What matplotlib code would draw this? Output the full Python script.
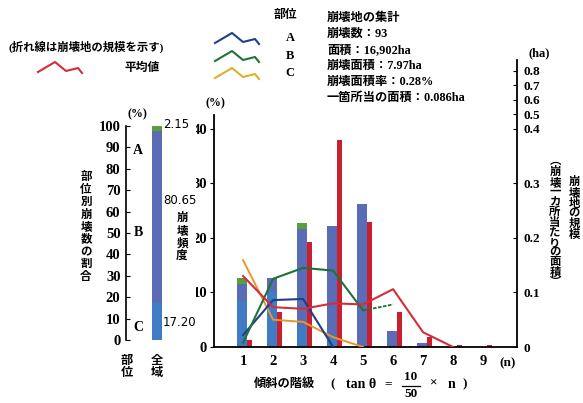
import matplotlib
matplotlib.use("Agg")
import matplotlib.pyplot as plt
from matplotlib.lines import Line2D
import numpy as np

plt.rcParams['font.family'] = ['Liberation Serif', 'Noto Sans CJK JP', 'DejaVu Sans']
plt.rcParams['font.weight'] = 'bold'

# 傾斜の階級 n
klass = [1, 2, 3, 4, 5, 6, 7, 8, 9]
# 崩壊頻度 (%) 部位別
freq_c = [8.4, 10.0, 3.7, 1.8, 0, 0, 0, 0, 0]
freq_b = [3.1, 2.6, 18.0, 20.3, 26.3, 2.9, 0.7, 0, 0]
freq_a = [1.1, 0, 1.1, 0, 0, 0, 0, 0, 0]
# 崩壊面積の割合 (%)
area_pct = [1.3, 6.4, 19.2, 38.0, 23.0, 6.4, 1.8, 0.4, 0.4]

# 崩壊一カ所当たりの面積 (ha)
mean_n = [1, 2, 3, 4, 5, 6, 7, 8]
mean_ha = [0.130, 0.073, 0.070, 0.080, 0.078, 0.106, 0.027, 0.0]
a_n = [1, 2, 3, 4]
a_ha = [0.022, 0.086, 0.088, 0.0]
b_n = [1, 2, 3, 4, 5]
b_ha = [0.008, 0.125, 0.145, 0.140, 0.067]
b_n_tail = [5, 6]
b_ha_tail = [0.067, 0.078]
c_n = [1, 2, 3, 4, 5]
c_ha = [0.159, 0.050, 0.046, 0.018, 0.0]

# 全域の部位別割合 (%)
total_labels = ['C', 'B', 'A']
total_pct = [17.20, 80.65, 2.15]

left_ticks = [0, 10, 20, 30, 40]
right_ticks = [0, 0.1, 0.2, 0.3, 0.4, 0.5, 0.6, 0.7, 0.8]
right_ticklabels = ['0', '0.1', '0.2', '0.3', '0.4', '0.5', '0.6', '0.7', '0.8']

col_c = '#3f7cc4'
col_b = '#5b6cb6'
col_a = '#5c9e3a'
col_red = '#c8202e'
col_line_a = '#1f3e8c'
col_line_b = '#1e7338'
col_line_c = '#e8962e'
col_line_mean = '#d42d3a'
col_leg_c = '#dcb226'

W, H = 583, 403
fig = plt.figure(figsize=(W / 100, H / 100), dpi=100)


def fx(x):
    return x / W


def fy(y):
    return 1 - y / H


def ftext(x, y, s, **kw):
    fig.text(fx(x), fy(y), s, **kw)


def vert(s):
    return "\n".join(s)


# ---- 本体のグラフ ----
ax = fig.add_axes([fx(214), fy(347), (517 - 214) / W, (347 - 60) / H])
ax.set_xlim(0.03, 10.13)
ax.set_ylim(0, 52.6)

x = np.array(klass, dtype=float)
fc = np.array(freq_c)
fb = np.array(freq_b)
fa = np.array(freq_a)
ax.bar(x - 0.05, fc, width=0.33, color=col_c, zorder=2)
ax.bar(x - 0.05, fb, width=0.33, bottom=fc, color=col_b, zorder=2)
ax.bar(x - 0.05, fa, width=0.33, bottom=fc + fb, color=col_a, zorder=2)
ax.bar(x + 0.2, area_pct, width=0.17, color=col_red, zorder=2)

for s in ['top', 'right']:
    ax.spines[s].set_visible(False)
ax.spines['left'].set_bounds(0, 42.5)
ax.spines['left'].set_linewidth(1.3)
ax.spines['bottom'].set_linewidth(1.3)
ax.set_yticks(left_ticks)
ax.set_xticks(klass)
ax.set_xticklabels([str(k) for k in klass])
ax.tick_params(axis='y', direction='out', length=3, labelsize=10.5, pad=2)
ax.tick_params(axis='x', length=0, labelsize=10.5, pad=6)
ax.text(9.83, -1.9, '(n)', ha='center', va='top', fontsize=9.5)

# 右軸 (ha): 0.4 より上は縮めて描く
k = 0.265


def fwd(v):
    v = np.asarray(v, dtype=float)
    return np.where(v <= 0.4, v, 0.4 + (v - 0.4) * k)


def inv(u):
    u = np.asarray(u, dtype=float)
    return np.where(u <= 0.4, u, 0.4 + (u - 0.4) / k)


ax2 = ax.twinx()
ax2.set_yscale('function', functions=(fwd, inv))
ax2.set_ylim(0, float(inv(0.526)))
for s in ['top', 'left', 'bottom']:
    ax2.spines[s].set_visible(False)
ax2.spines['right'].set_linewidth(1.3)
ax2.set_yticks(right_ticks)
ax2.set_yticklabels(right_ticklabels)
ax2.yaxis.set_minor_locator(matplotlib.ticker.NullLocator())
ax2.tick_params(axis='y', direction='in', length=3, labelsize=9.5, pad=5)

ax2.plot(c_n, c_ha, color=col_line_c, lw=1.4)
ax2.plot(a_n, a_ha, color=col_line_a, lw=1.5)
ax2.plot(b_n, b_ha, color=col_line_b, lw=1.5)
ax2.plot(b_n_tail, b_ha_tail, color=col_line_b, lw=1.3, ls=(0, (2, 0.8)))
ax2.plot(mean_n, mean_ha, color=col_line_mean, lw=1.5)

# ---- 左の全域の棒 ----
ax3 = fig.add_axes([fx(126), fy(340), 70 / W, 214 / H])
ax3.set_xlim(-1.55, 1.95)
ax3.set_ylim(0, 100)
bottom = 0
for lab, val, col in zip(total_labels, total_pct, [col_c, col_b, col_a]):
    ax3.bar(0, val, width=0.5, bottom=bottom, color=col)
    bottom += val
for s in ['top', 'right', 'bottom']:
    ax3.spines[s].set_visible(False)
ax3.spines['left'].set_linewidth(1.2)
ax3.set_xticks([])
ax3.set_yticks(range(0, 101, 10))
ax3.tick_params(axis='y', direction='in', length=3, labelsize=10.5, pad=4)
ax3.text(-0.95, 88.5, 'A', ha='center', va='center', fontsize=10)
ax3.text(-0.95, 50, 'B', ha='center', va='center', fontsize=10)
ax3.text(-0.95, 6, 'C', ha='center', va='center', fontsize=10)
num_font = dict(family='DejaVu Sans', weight='normal', fontsize=8.5)
ax3.text(0.3, 100.5, '%.2f' % total_pct[2], ha='left', va='center', **num_font)
ax3.text(0.3, 65.4, '%.2f' % total_pct[1], ha='left', va='center', **num_font)
ax3.text(0.3, 8, '%.2f' % total_pct[0], ha='left', va='center', **num_font)

# ---- 文字 ----
ftext(137, 114, '(%)', ha='center', va='center', fontsize=8.5)
ftext(215, 103, '(%)', ha='center', va='center', fontsize=8.5)
ftext(539, 53, '(ha)', ha='center', va='center', fontsize=9)
ftext(86, 227, vert('部位別崩壊数の割合'), ha='center', va='center',
      fontsize=8.3, linespacing=1.05)
ftext(182, 237, vert('崩壊頻度'), ha='center', va='center',
      fontsize=8.3, linespacing=1.05)
ftext(127, 367, vert('部位'), ha='center', va='center', fontsize=8.8, linespacing=1.0)
ftext(157, 367, vert('全域'), ha='center', va='center', fontsize=8.8, linespacing=1.0)
ftext(555, 222, vert('︵崩壊一カ所当たりの面積︶'), ha='center', va='center',
      fontsize=8.2, linespacing=1.0)
ftext(574, 208, vert('崩壊地の規模'), ha='center', va='center',
      fontsize=8.2, linespacing=1.0)

summary = ['崩壊地の集計', '崩壊数：93', '面積：16,902ha', '崩壊面積：7.97ha',
           '崩壊面積率：0.28%', '一箇所当の面積：0.086ha']
for i, line in enumerate(summary):
    ftext(327, 18 + i * 16, line, ha='left', va='center', fontsize=8.8)

# 横軸の説明
ftext(284, 384, '傾斜の階級', ha='center', va='center', fontsize=8.8)
ftext(333, 384, '(', ha='center', va='center', fontsize=9.5)
ftext(361, 384, 'tan θ', ha='center', va='center', fontsize=10)
ftext(388, 384, '=', ha='center', va='center', fontsize=9.5)
ftext(411, 377, '10', ha='center', va='center', fontsize=9.5)
ftext(411, 394, '50', ha='center', va='center', fontsize=9.5)
fig.add_artist(Line2D([fx(402), fx(420)], [fy(386), fy(386)], color='black', lw=0.9))
ftext(433, 384, '×', ha='center', va='center', fontsize=9.5)
ftext(452, 384, 'n', ha='center', va='center', fontsize=10)
ftext(465, 384, ')', ha='center', va='center', fontsize=9.5)

# 凡例
ftext(86, 47, '(折れ線は崩壊地の規模を示す)', ha='center', va='center', fontsize=8.2)
ftext(142, 68, '平均値', ha='center', va='center', fontsize=8.5)
ftext(285, 15, '部位', ha='center', va='center', fontsize=8.5)
zig_x = np.array([0, 17, 28, 40, 44])
zig_y = np.array([10, 0, 9, 6, 11])
for x0, y0, col in [(38, 62, col_line_mean), (215, 33, col_line_a),
                    (215, 51, col_line_b), (215, 68, col_leg_c)]:
    fig.add_artist(Line2D(fx(x0 + zig_x), fy(y0 + zig_y), color=col, lw=1.5))
ftext(290, 38, 'A', ha='center', va='center', fontsize=9)
ftext(290, 56, 'B', ha='center', va='center', fontsize=9)
ftext(290, 73, 'C', ha='center', va='center', fontsize=9)

fig.savefig('out.png', dpi=100)
